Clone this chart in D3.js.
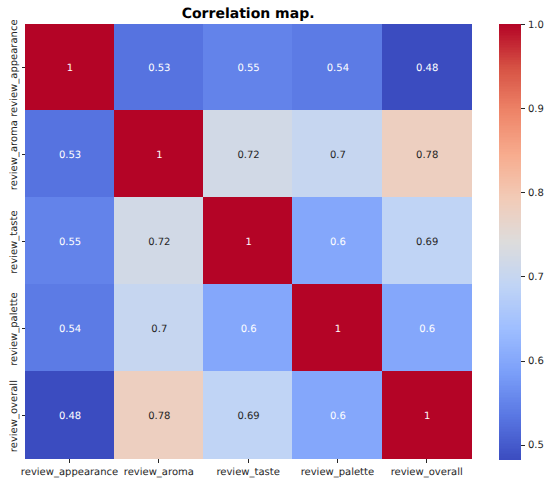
<!DOCTYPE html>
<html>
<head>
<meta charset="utf-8">
<script src="https://cdn.jsdelivr.net/npm/d3@7"></script>
<style>
  html, body { margin: 0; padding: 0; background: #fff; }
  svg { display: block; }
  text { font-family: "DejaVu Sans", sans-serif; text-rendering: geometricPrecision; }
</style>
</head>
<body>
<svg width="551" height="484"></svg>
<script>
var labels = ['review_appearance', 'review_aroma', 'review_taste', 'review_palette', 'review_overall'];
var row0 = [1, 0.53, 0.55, 0.54, 0.48];
var row1 = [0.53, 1, 0.72, 0.7, 0.78];
var row2 = [0.55, 0.72, 1, 0.6, 0.69];
var row3 = [0.54, 0.7, 0.6, 1, 0.6];
var row4 = [0.48, 0.78, 0.69, 0.6, 1];
var rows = [row0, row1, row2, row3, row4];
var barTicks = [0.5, 0.6, 0.7, 0.8, 0.9, 1.0];
var vmin = 0.483, vmax = 1;
var coolwarm = ['#3b4cc0', '#5977e3', '#7b9ff9', '#9ebeff', '#c0d4f5', '#dddcdc',
                '#f2cbb7', '#f7ac8e', '#ee8468', '#d65244', '#b40426'];

var svg = d3.select('svg');
var left = 24.9, right = 471.3, top_ = 23.6, bottom = 458.6;

var x = d3.scaleBand().domain(labels).range([left, right]);
var y = d3.scaleBand().domain(labels).range([top_, bottom]);

// pixel edges of a cell: inner edges round down, outer edges round up
function edges(scale, i) {
  var n = labels.length, b = scale.bandwidth(), s = scale.range()[0];
  return [
    i === 0 ? Math.ceil(s) : Math.floor(s + i * b),
    i === n - 1 ? Math.ceil(s + n * b) : Math.floor(s + (i + 1) * b)
  ];
}

var norm = d3.scaleLinear().domain([vmin, vmax]).range([0, 1]).clamp(true);
var ramp = d3.scaleLinear()
  .domain(coolwarm.map(function(d, i) { return i / (coolwarm.length - 1); }))
  .range(coolwarm)
  .interpolate(d3.interpolateRgb);
function color(v) { return ramp(norm(v)); }

// same light/dark rule as seaborn annotations
function lum(c) {
  var r = d3.rgb(c);
  var f = function(u) {
    u = u / 255;
    return u <= 0.03928 ? u / 12.92 : Math.pow((u + 0.055) / 1.055, 2.4);
  };
  return 0.2126 * f(r.r) + 0.7152 * f(r.g) + 0.0722 * f(r.b);
}

var cells = [];
rows.forEach(function(row, i) {
  row.forEach(function(v, j) { cells.push({ i: i, j: j, r: labels[i], c: labels[j], v: v }); });
});

svg.append('g').selectAll('rect')
  .data(cells)
  .enter().append('rect')
  .attr('x', function(d) { return edges(x, d.j)[0]; })
  .attr('y', function(d) { return edges(y, d.i)[0]; })
  .attr('width', function(d) { var e = edges(x, d.j); return e[1] - e[0]; })
  .attr('height', function(d) { var e = edges(y, d.i); return e[1] - e[0]; })
  .attr('fill', function(d) { return color(d.v); })
  .attr('shape-rendering', 'crispEdges');

svg.append('g').selectAll('text')
  .data(cells)
  .enter().append('text')
  .attr('x', function(d) { return x(d.c) + x.bandwidth() / 2 + 0.5; })
  .attr('y', function(d) { return y(d.r) + y.bandwidth() / 2; })
  .attr('dy', '0.37em')
  .attr('text-anchor', 'middle')
  .attr('font-size', 10)
  .attr('fill', function(d) { return lum(color(d.v)) > 0.408 ? '#262626' : '#ffffff'; })
  .text(function(d) { return d.v; });

function styleAxis(g) {
  g.select('.domain').remove();
  g.selectAll('.tick line')
    .attr('stroke', '#262626')
    .attr('stroke-width', 1)
    .attr('shape-rendering', 'crispEdges');
  g.selectAll('.tick text')
    .attr('fill', '#262626')
    .style('font-family', '"DejaVu Sans", sans-serif')
    .style('font-size', '10px');
}

svg.append('g')
  .attr('transform', 'translate(0,' + Math.ceil(bottom) + ')')
  .call(d3.axisBottom(x).tickSize(3.5).tickPadding(5.5))
  .call(styleAxis);

var yAxis = svg.append('g')
  .attr('transform', 'translate(' + Math.ceil(left) + ',0)')
  .call(d3.axisLeft(y).tickSize(3.5).tickPadding(3.5))
  .call(styleAxis);

yAxis.selectAll('.tick text')
  .attr('transform', 'rotate(-90)')
  .attr('x', -1)
  .attr('y', -8)
  .attr('dy', 0)
  .attr('text-anchor', 'middle');

// colorbar
var barX = 499, barW = 22, barTop = Math.ceil(top_), barBottom = Math.ceil(bottom);
var barY = d3.scaleLinear().domain([vmin, vmax]).range([barBottom, barTop]);
var steps = d3.range(256);
svg.append('g').selectAll('rect')
  .data(steps)
  .enter().append('rect')
  .attr('x', barX)
  .attr('width', barW)
  .attr('y', function(d) { return barY(vmin + (vmax - vmin) * (d + 1) / 256); })
  .attr('height', (barBottom - barTop) / 256 + 0.5)
  .attr('fill', function(d) { return ramp((d + 0.5) / 256); })
  .attr('shape-rendering', 'crispEdges');

svg.append('g')
  .attr('transform', 'translate(' + (barX + barW) + ',0)')
  .call(d3.axisRight(barY).tickValues(barTicks).tickFormat(d3.format('.1f')).tickSize(3.5).tickPadding(3.5))
  .call(styleAxis);

svg.append('text')
  .attr('x', (left + right) / 2)
  .attr('y', 18)
  .attr('text-anchor', 'middle')
  .attr('font-size', 14)
  .attr('font-weight', 'bold')
  .attr('fill', '#000')
  .text('Correlation map.');
</script>
</body>
</html>
